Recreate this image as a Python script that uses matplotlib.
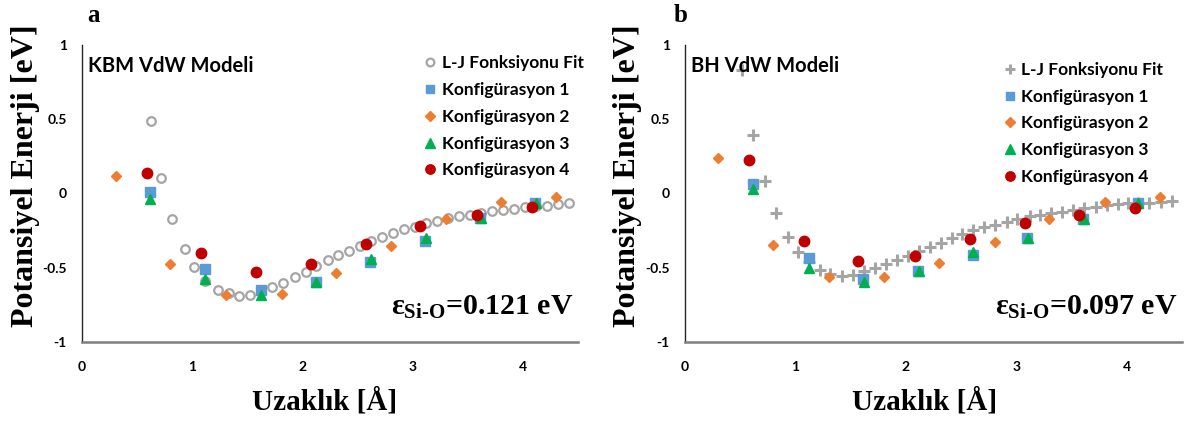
import matplotlib
matplotlib.use("Agg")
import matplotlib.pyplot as plt

# ---- veriler (a) KBM VdW Modeli
kbm_fit_x = [0.63, 0.72, 0.82, 0.93, 1.02, 1.12, 1.23, 1.33, 1.42, 1.52, 1.62, 1.72, 1.82,
             1.93, 2.03, 2.12, 2.23, 2.32, 2.42, 2.52, 2.62, 2.72, 2.82, 2.92, 3.02, 3.12,
             3.22, 3.32, 3.42, 3.52, 3.62, 3.72, 3.82, 3.92, 4.02, 4.12, 4.22, 4.32, 4.42]
kbm_fit_y = [0.49, 0.106, -0.169, -0.371, -0.497, -0.589, -0.647, -0.670, -0.690, -0.685,
             -0.662, -0.631, -0.600, -0.562, -0.526, -0.490, -0.449, -0.416, -0.384, -0.355,
             -0.321, -0.290, -0.263, -0.240, -0.225, -0.198, -0.184, -0.168, -0.153, -0.142,
             -0.128, -0.117, -0.108, -0.103, -0.092, -0.083, -0.081, -0.074, -0.065]
kbm_k1_x = [0.62, 1.12, 1.62, 2.12, 2.61, 3.11, 3.61, 4.11]
kbm_k1_y = [0.011, -0.510, -0.652, -0.596, -0.461, -0.319, -0.162, -0.067]
kbm_k2_x = [0.31, 0.80, 1.31, 1.81, 2.30, 2.80, 3.30, 3.80, 4.30]
kbm_k2_y = [0.119, -0.472, -0.685, -0.674, -0.535, -0.353, -0.173, -0.056, -0.022]
kbm_k3_x = [0.62, 1.12, 1.62, 2.12, 2.62, 3.12, 3.62, 4.12]
kbm_k3_y = [-0.040, -0.578, -0.681, -0.596, -0.443, -0.297, -0.164, -0.063]
kbm_k4_x = [0.59, 1.08, 1.58, 2.08, 2.58, 3.07, 3.58, 4.08]
kbm_k4_y = [0.135, -0.400, -0.528, -0.472, -0.337, -0.218, -0.142, -0.090]

# ---- veriler (b) BH VdW Modeli
bh_fit_x = [0.52, 0.62, 0.72, 0.82, 0.93, 1.02, 1.12, 1.22, 1.31, 1.42, 1.52, 1.62, 1.72,
            1.82, 1.92, 2.02, 2.12, 2.22, 2.32, 2.42, 2.51, 2.61, 2.71, 2.81, 2.92, 3.01,
            3.12, 3.21, 3.31, 3.41, 3.51, 3.61, 3.72, 3.82, 3.92, 4.01, 4.10, 4.20, 4.31, 4.41]
bh_fit_y = [0.831, 0.393, 0.083, -0.130, -0.292, -0.396, -0.460, -0.512, -0.539, -0.555,
            -0.546, -0.521, -0.501, -0.476, -0.449, -0.418, -0.387, -0.362, -0.333, -0.303,
            -0.274, -0.247, -0.225, -0.211, -0.189, -0.171, -0.153, -0.146, -0.130, -0.124,
            -0.112, -0.101, -0.090, -0.079, -0.074, -0.067, -0.063, -0.061, -0.056, -0.052]
bh_k1_x = [0.62, 1.12, 1.61, 2.11, 2.61, 3.10, 3.60, 4.10]
bh_k1_y = [0.067, -0.434, -0.573, -0.521, -0.411, -0.297, -0.169, -0.063]
bh_k2_x = [0.30, 0.80, 1.30, 1.80, 2.30, 2.81, 3.30, 3.80, 4.30]
bh_k2_y = [0.240, -0.346, -0.562, -0.562, -0.465, -0.328, -0.173, -0.056, -0.022]
bh_k3_x = [0.62, 1.12, 1.62, 2.12, 2.61, 3.11, 3.61, 4.10]
bh_k3_y = [0.027, -0.499, -0.596, -0.521, -0.393, -0.297, -0.173, -0.067]
bh_k4_x = [0.58, 1.08, 1.57, 2.08, 2.58, 3.08, 3.57, 4.07]
bh_k4_y = [0.225, -0.321, -0.456, -0.418, -0.306, -0.202, -0.142, -0.097]

x_ticks = [0, 1, 2, 3, 4]
y_ticks = [-1, -0.5, 0, 0.5, 1]
y_tick_labels = ["-1", "-0.5", "0", "0.5", "1"]

GRAY = "#A5A5A5"
BLUE = "#5B9BD5"
ORANGE = "#ED7D31"
GREEN = "#00B050"
RED = "#C00000"

plt.rcParams["mathtext.fontset"] = "custom"
plt.rcParams["mathtext.rm"] = "Liberation Serif:bold"
plt.rcParams["mathtext.it"] = "Liberation Serif:bold"
plt.rcParams["mathtext.bf"] = "Liberation Serif:bold"

SANS = "Lato"
SERIF = "Liberation Serif"

fig = plt.figure(figsize=(11.92, 4.24), dpi=100)
ax1 = fig.add_axes([82 / 1192, 82 / 424, 496 / 1192, 297 / 424])
ax2 = fig.add_axes([685 / 1192, 82 / 424, 497 / 1192, 297 / 424])


def draw_panel(ax, fit_x, fit_y, fit_marker, k1, k2, k3, k4, title, eps, leg_anchor):
    if fit_marker == "o":
        ax.plot(fit_x, fit_y, "o", ms=6.2, mfc="none", mec=GRAY, mew=1.6, ls="none",
                label="L-J Fonksiyonu Fit")
    else:
        ax.plot(fit_x, fit_y, "+", ms=8, mec=GRAY, mew=2.2, ls="none",
                label="L-J Fonksiyonu Fit")
    ax.plot(k1[0], k1[1], "s", ms=6.5, color=BLUE, ls="none", label="Konfigürasyon 1")
    ax.plot(k2[0], k2[1], "D", ms=5.5, color=ORANGE, ls="none", label="Konfigürasyon 2")
    ax.plot(k3[0], k3[1], "^", ms=7.5, color=GREEN, ls="none", label="Konfigürasyon 3")
    ax.plot(k4[0], k4[1], "o", ms=7.5, color=RED, ls="none", label="Konfigürasyon 4")

    ax.set_xlim(0, 4.5)
    ax.set_ylim(-1, 1)
    ax.set_xticks(x_ticks)
    ax.set_yticks(y_ticks)
    ax.set_yticklabels(y_tick_labels)
    ax.tick_params(length=0, labelsize=10)
    ax.tick_params(axis="y", pad=11)
    ax.tick_params(axis="x", pad=14)
    for lab in ax.get_xticklabels() + ax.get_yticklabels():
        lab.set_fontfamily(SANS)
        lab.set_fontweight("bold")
    for s in ["top", "right"]:
        ax.spines[s].set_visible(False)
    ax.spines["left"].set_color("#262626")
    ax.spines["left"].set_linewidth(1.0)
    ax.spines["bottom"].set_color("#7F7F7F")
    ax.spines["bottom"].set_linewidth(1.8)

    ax.text(0.012, 0.93, title, transform=ax.transAxes, fontsize=14.5, fontweight="bold",
            family=SANS, ha="left", va="center")
    ax.text(0.99, 0.115, eps, transform=ax.transAxes, fontsize=21.5, fontweight="bold",
            family=SERIF, ha="right", va="center")

    leg = ax.legend(loc="upper left", bbox_to_anchor=leg_anchor, frameon=False,
                    prop={"family": SANS, "weight": "bold", "size": 12.5},
                    handlelength=0.6, handletextpad=0.35, labelspacing=0.62,
                    borderpad=0, borderaxespad=0, markerscale=0.9)
    return leg


draw_panel(ax1, kbm_fit_x, kbm_fit_y, "o",
           (kbm_k1_x, kbm_k1_y), (kbm_k2_x, kbm_k2_y), (kbm_k3_x, kbm_k3_y), (kbm_k4_x, kbm_k4_y),
           "KBM VdW Modeli", r"$\varepsilon_{Si\text{-}O}$=0.121 eV", (0.692, 0.965))
draw_panel(ax2, bh_fit_x, bh_fit_y, "+",
           (bh_k1_x, bh_k1_y), (bh_k2_x, bh_k2_y), (bh_k3_x, bh_k3_y), (bh_k4_x, bh_k4_y),
           "BH VdW Modeli", r"$\varepsilon_{Si\text{-}O}$=0.097 eV", (0.643, 0.943))

# eksen başlıkları ve panel harfleri
for xc, yl_x, letter_x, letter in [(325, 26, 93, "a"), (925, 628, 681, "b")]:
    fig.text(xc / 1192, 1 - 402 / 424, "Uzaklık [Å]", fontsize=21, fontweight="bold",
             family=SERIF, ha="center", va="center")
    fig.text(yl_x / 1192, 1 - 176 / 424, "Potansiyel Enerji [eV]", fontsize=23,
             fontweight="bold", family=SERIF, rotation=90, ha="center", va="center")
    fig.text(letter_x / 1192, 1 - 15 / 424, letter, fontsize=18, fontweight="bold",
             family=SERIF, ha="center", va="center")

fig.savefig("out.png", dpi=100)
